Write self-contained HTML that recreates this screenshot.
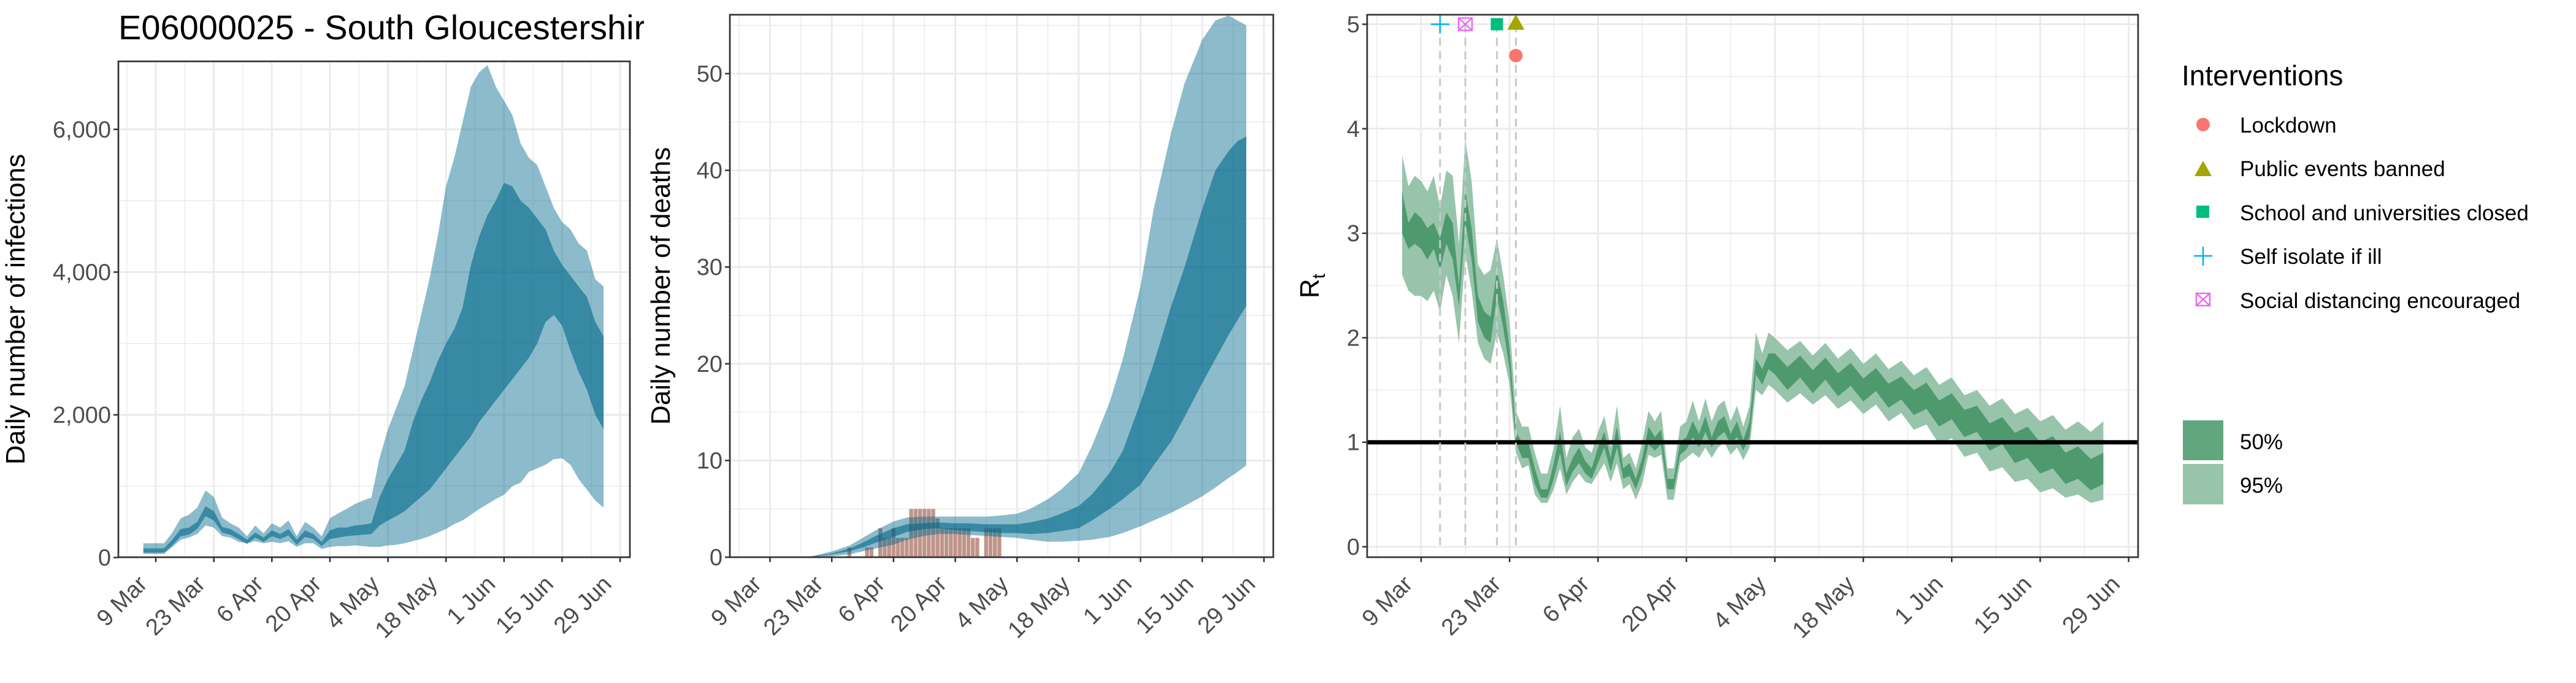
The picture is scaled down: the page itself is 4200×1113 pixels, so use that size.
<!DOCTYPE html>
<html><head><meta charset="utf-8">
<style>
html,body{margin:0;padding:0;background:#fff;}
svg{display:block;font-family:"Liberation Sans",Arial,sans-serif;}
</style></head>
<body>
<svg id="chart" width="4200" height="1113" viewBox="0 0 4200 1113" xmlns="http://www.w3.org/2000/svg">
<defs>
<clipPath id="titleClip"><rect x="0" y="0" width="1050" height="100"/></clipPath>
</defs>
<g clip-path="url(#titleClip)"><text x="193" y="64" font-size="56" fill="#000">E06000025 - South Gloucestershire</text></g>
<g id="p1"></g>
<g id="p2"></g>
<g id="p3"></g>
<g id="legend">
<text x="3557" y="139" font-size="46" fill="#000">Interventions</text>
<circle cx="3592" cy="203" r="11" fill="#F8766D"/>
<text x="3652" y="216" font-size="35">Lockdown</text>
<polygon points="3578,287 3606,287 3592,262" fill="#A3A500"/>
<text x="3652" y="287" font-size="35">Public events banned</text>
<rect x="3581" y="335" width="21" height="20" fill="#00BF7D"/>
<text x="3652" y="359" font-size="35">School and universities closed</text>
<g stroke="#00B0F6" stroke-width="2.5"><line x1="3577" y1="417" x2="3607" y2="417"/><line x1="3592" y1="402" x2="3592" y2="433"/></g>
<text x="3652" y="430" font-size="35">Self isolate if ill</text>
<g stroke="#E76BF3" stroke-width="2.5" fill="none"><rect x="3581" y="478" width="22" height="20"/><line x1="3581" y1="478" x2="3603" y2="498"/><line x1="3603" y1="478" x2="3581" y2="498"/></g>
<text x="3652" y="502" font-size="35">Social distancing encouraged</text>
<rect x="3559" y="685" width="66" height="65" fill="#62A67F"/>
<text x="3652" y="732" font-size="35">50%</text>
<rect x="3559" y="756" width="66" height="66" fill="#98C4AB"/>
<text x="3652" y="803" font-size="35">95%</text>
</g>
</svg>
<script>
// ---------- data (days since 9 Mar) ----------
const tickLabels = ["9 Mar","23 Mar","6 Apr","20 Apr","4 May","18 May","1 Jun","15 Jun","29 Jun"];
const tickDays = [0,14,28,42,56,70,84,98,112];

const infDays = [-3,0,2,4,6,8,10,12,14,16,18,20,22,24,26,28,30,32,34,36,38,40,42,44,46,48,50,52,54,56,58,60,62,64,66,68,70,72,74,76,78,80,82,84,86,88,90,92,94,96,98,100,102,104,106,108];
const infU95 = [200,200,200,350,550,600,700,940,850,560,480,420,300,450,340,480,420,520,300,500,420,300,550,620,680,750,800,840,1400,1800,2100,2400,2900,3400,3900,4500,5200,5600,6100,6600,6800,6900,6600,6400,6200,5800,5600,5500,5200,4900,4700,4600,4400,4300,3900,3800];
const infU50 = [130,130,130,250,400,420,500,720,650,430,400,330,250,350,280,380,330,400,250,380,330,220,380,420,420,450,460,480,850,1100,1300,1500,1900,2200,2450,2750,3000,3200,3500,4100,4500,4800,5000,5250,5200,5000,4900,4750,4600,4300,4100,3950,3800,3650,3300,3100];
const infL50 = [70,70,70,170,300,320,400,580,520,350,320,260,190,280,220,300,260,310,180,290,260,160,260,280,300,310,320,330,450,520,580,650,750,850,950,1100,1250,1400,1550,1700,1900,2050,2200,2350,2500,2650,2800,3000,3300,3400,3250,2900,2600,2350,2000,1800];
const infL95 = [50,50,50,150,250,280,330,450,420,300,280,220,200,230,200,220,200,230,150,200,200,120,150,160,160,170,160,150,150,170,180,200,230,260,300,350,400,470,520,600,680,750,820,880,1000,1050,1200,1250,1300,1380,1390,1300,1100,950,800,700];

const dDays = [-3,0,4,7,10,14,18,21,24,28,31,35,38,42,45,49,52,56,59,63,66,70,73,77,80,84,87,91,94,98,101,104,106,108];
const dU95 = [0,0,0,0.02,0.15,0.6,1.2,2,2.8,3.7,4.1,4.2,4.2,4.2,4.2,4.2,4.3,4.5,5,6,7,8.7,11.5,16,20.5,28,36,44,49,53.5,55.5,56,55.5,55];
const dU50 = [0,0,0,0,0.1,0.4,0.9,1.5,2.2,3.0,3.4,3.5,3.6,3.5,3.5,3.4,3.4,3.4,3.6,4,4.5,5.3,6.5,8.7,11,16,20,26,30,36,40,42,43,43.5];
const dL50 = [0,0,0,0,0.05,0.3,0.6,1.0,1.5,2.1,2.6,2.9,3,2.8,2.7,2.6,2.5,2.5,2.4,2.5,2.7,3,3.8,5,6,7.5,9.5,12,14.5,18,20.5,23,24.5,26];
const dL95 = [0,0,0,0,0.02,0.1,0.3,0.6,0.9,1.3,1.8,2.2,2.4,2.4,2.3,2.2,2.1,2.0,1.8,1.6,1.6,1.7,1.8,2.1,2.5,3.2,3.8,4.6,5.3,6.3,7.2,8.2,8.8,9.5];
const obsDays = [18,22,23,25,26,27,28,29,30,31,32,33,34,35,36,37,38,39,40,41,42,43,44,45,46,47,49,50,51,52];
const obsDeaths = [1,1,1,3,2,2,3,2,2,2,5,5,5,5,5,5,4,3,3,3,3,3,3,3,2,2,3,3,3,3];

const rDays = [-3,-2,-1,0,1,2,3,4,5,6,7,8,9,10,11,12,13,14,15,16,17,18,19,20,21,22,23,24,25,26,27,28,29,30,31,32,33,34,35,36,37,38,39,40,41,42,43,44,45,46,47,48,49,50,51,52,53,54,55,56,58,60,62,64,66,68,70,72,74,76,78,80,82,84,86,88,90,92,94,96,98,100,102,104,106,108];
const rU95 = [3.75,3.45,3.55,3.5,3.4,3.55,3.25,3.6,3.55,2.9,3.9,3.5,2.7,2.6,2.65,2.95,2.6,2.15,1.3,1.15,1.15,0.9,0.7,0.7,0.95,1.35,0.85,1.05,1.13,0.95,0.9,1.1,1.25,0.95,1.35,0.85,0.9,0.75,1.0,1.3,1.2,1.3,0.75,0.75,1.15,1.2,1.4,1.2,1.42,1.2,1.35,1.4,1.2,1.35,1.15,1.35,2.05,1.85,2.05,2.0,1.88,1.97,1.83,1.95,1.8,1.9,1.75,1.85,1.7,1.78,1.64,1.72,1.55,1.62,1.45,1.5,1.35,1.42,1.27,1.33,1.2,1.26,1.12,1.2,1.1,1.2];
const rU50 = [3.4,3.1,3.2,3.15,3.05,3.1,2.95,3.2,3.1,2.5,3.4,3.05,2.4,2.25,2.2,2.65,2.35,1.9,1.1,1.0,1.0,0.75,0.55,0.55,0.8,1.1,0.7,0.85,0.95,0.82,0.75,0.95,1.1,0.85,1.15,0.75,0.8,0.65,0.85,1.15,1.05,1.12,0.65,0.65,1.0,1.05,1.2,1.08,1.25,1.05,1.2,1.25,1.08,1.2,1.02,1.2,1.8,1.7,1.85,1.85,1.72,1.83,1.69,1.81,1.66,1.76,1.61,1.71,1.56,1.63,1.5,1.57,1.4,1.47,1.31,1.35,1.18,1.24,1.09,1.15,1.0,1.06,0.9,0.96,0.84,0.9];
const rL50 = [3.0,2.85,2.9,2.85,2.75,2.85,2.65,2.9,2.75,2.3,3.1,2.75,2.15,2.0,1.95,2.4,2.1,1.7,1.0,0.85,0.85,0.6,0.47,0.47,0.65,0.9,0.58,0.72,0.8,0.7,0.65,0.8,0.95,0.72,0.95,0.65,0.68,0.55,0.72,0.98,0.92,0.98,0.55,0.55,0.88,0.93,1.05,0.95,1.1,0.95,1.05,1.1,0.98,1.05,0.92,1.05,1.65,1.55,1.7,1.65,1.5,1.62,1.47,1.6,1.44,1.54,1.39,1.49,1.33,1.41,1.26,1.32,1.15,1.22,1.05,1.1,0.92,0.98,0.8,0.85,0.7,0.75,0.6,0.65,0.54,0.6];
const rL95 = [2.6,2.45,2.4,2.4,2.35,2.45,2.25,2.6,2.4,1.95,2.8,2.45,1.95,1.8,1.75,2.05,1.85,1.55,0.9,0.75,0.78,0.5,0.42,0.42,0.55,0.75,0.5,0.62,0.7,0.62,0.6,0.7,0.8,0.62,0.8,0.55,0.6,0.45,0.6,0.88,0.85,0.88,0.45,0.45,0.8,0.85,0.9,0.85,0.95,0.85,0.95,1.0,0.88,0.95,0.83,0.95,1.5,1.45,1.55,1.5,1.38,1.47,1.36,1.45,1.32,1.4,1.27,1.36,1.2,1.28,1.12,1.17,0.98,1.04,0.86,0.9,0.72,0.76,0.62,0.65,0.52,0.56,0.47,0.5,0.42,0.45];

const intDays = [15,15,12,3,7];
const intR = [4.7,5,5,5,5];
const intNames = ["lockdown","public-events-banned","school-closed","self-isolate","social-distancing"];

// ---------- helpers ----------
const NS = "http://www.w3.org/2000/svg";
function mk(parent, tag, attrs) {
  const el = document.createElementNS(NS, tag);
  for (const k in attrs) el.setAttribute(k, attrs[k]);
  parent.appendChild(el);
  return el;
}
function bandPath(days, lo, hi, xf, yf) {
  let d = "";
  for (let i = 0; i < days.length; i++) d += (i ? "L" : "M") + xf(days[i]).toFixed(1) + "," + yf(hi[i]).toFixed(1);
  for (let i = days.length - 1; i >= 0; i--) d += "L" + xf(days[i]).toFixed(1) + "," + yf(lo[i]).toFixed(1);
  return d + "Z";
}
function panel(g, cfg) {
  const {L, R, T, B, xf, yf, yMajor, yMinor, yFmt, title} = cfg;
  mk(g, "rect", {x: L, y: T, width: R - L, height: B - T, fill: "#fff"});
  yMinor.forEach(v => { const y = yf(v); if (y > T && y < B) mk(g, "line", {x1: L, x2: R, y1: y, y2: y, stroke: "#ebebeb", "stroke-width": 1.5}); });
  for (let d = -7; d <= 119; d += 14) { const x = xf(d); if (x > L && x < R) mk(g, "line", {x1: x, x2: x, y1: T, y2: B, stroke: "#ebebeb", "stroke-width": 1.5}); }
  yMajor.forEach(v => { const y = yf(v); mk(g, "line", {x1: L, x2: R, y1: y, y2: y, stroke: "#ebebeb", "stroke-width": 3}); });
  tickDays.forEach(d => { const x = xf(d); if (x > L && x < R) mk(g, "line", {x1: x, x2: x, y1: T, y2: B, stroke: "#ebebeb", "stroke-width": 3}); });
  const content = mk(g, "g", {});
  yMajor.forEach(v => {
    const y = yf(v);
    const tk = mk(g, "line", {x1: L - 8, x2: L, y1: y, y2: y, stroke: "#333", "stroke-width": 2.5});
    
    
    const t = mk(g, "text", {x: L - 12, y: y + 13, "text-anchor": "end", "font-size": 38, fill: "#4d4d4d"});
    t.textContent = yFmt(v);
    
    
  });
  tickDays.forEach((d, i) => {
    const x = xf(d);
    mk(g, "line", {x1: x, x2: x, y1: B, y2: B + 8, stroke: "#333", "stroke-width": 2.5});
    const ax = x - 12, ay = B + 46;
    const t = mk(g, "text", {x: ax, y: ay, "text-anchor": "end", "font-size": 38, fill: "#4d4d4d", transform: "rotate(-45 " + ax + " " + ay + ")"});
    t.textContent = tickLabels[i];
    
    
  });
  const yt = mk(g, "text", {x: title.x, y: title.y, "text-anchor": "middle", "font-size": 44, fill: "#000", transform: "rotate(-90 " + title.x + " " + title.y + ")"});
  
  
  if (title.sub) {
    yt.textContent = title.text;
    const s = mk(yt, "tspan", {"font-size": 30, dy: 10});
    s.textContent = title.sub;
  } else yt.textContent = title.text;
  return content;
}
function border(g, L, R, T, B) {
  const b = mk(g, "rect", {x: L, y: T, width: R - L, height: B - T, fill: "none", stroke: "#333", "stroke-width": 2.7});
  
  
}

// ---------- panel 1: infections ----------
(function () {
  const g = document.getElementById("p1");
  const L = 193, R = 1027, T = 100, B = 908;
  const xf = d => 254 + d * 6.76;
  const yf = v => 908.6 - v * 232.6 / 2000;
  const c = panel(g, {L, R, T, B, xf, yf, yMajor: [0, 2000, 4000, 6000], yMinor: [1000, 3000, 5000],
    yFmt: v => v.toLocaleString("en-US"), title: {x: 40, y: 504, text: "Daily number of infections"}});
  const b95 = mk(c, "path", {d: bandPath(infDays, infL95, infU95, xf, yf), fill: "rgba(0,104,139,0.45)"});
  
  
  const b50 = mk(c, "path", {d: bandPath(infDays, infL50, infU50, xf, yf), fill: "rgba(0,104,139,0.6)"});
  
  
  border(g, L, R, T, B);
})();

// ---------- panel 2: deaths ----------
(function () {
  const g = document.getElementById("p2");
  const L = 1190, R = 2076, T = 24, B = 908;
  const xf = d => 1255.5 + d * 7.19;
  const yf = v => 908 - v * 15.76;
  const c = panel(g, {L, R, T, B, xf, yf, yMajor: [0, 10, 20, 30, 40, 50], yMinor: [5, 15, 25, 35, 45, 55],
    yFmt: v => String(v), title: {x: 1092, y: 466, text: "Daily number of deaths"}});
  obsDays.forEach((d, i) => {
    const x = xf(d) - 3.2, y = yf(obsDeaths[i]);
    const r = mk(c, "rect", {x: x, y: y, width: 6.4, height: yf(0) - y, fill: "#C0958C"});
    
    
  });
  const b95 = mk(c, "path", {d: bandPath(dDays, dL95, dU95, xf, yf), fill: "rgba(0,104,139,0.45)"});
  
  
  const b50 = mk(c, "path", {d: bandPath(dDays, dL50, dU50, xf, yf), fill: "rgba(0,104,139,0.6)"});
  
  
  border(g, L, R, T, B);
})();

// ---------- panel 3: Rt ----------
(function () {
  const g = document.getElementById("p3");
  const L = 2229, R = 3486, T = 24, B = 908;
  const xf = d => 2317 + d * 10.3;
  const yf = v => 891 - v * 170.3;
  const c = panel(g, {L, R, T, B, xf, yf, yMajor: [0, 1, 2, 3, 4, 5], yMinor: [0.5, 1.5, 2.5, 3.5, 4.5],
    yFmt: v => String(v), title: {x: 2150, y: 466, text: "R", sub: "t"}});
  const b95 = mk(c, "path", {d: bandPath(rDays, rL95, rU95, xf, yf), fill: "#98C4AB"});
  
  
  const b50 = mk(c, "path", {d: bandPath(rDays, rL50, rU50, xf, yf), fill: "#4E9A6E"});
  
  
  const h = mk(c, "line", {x1: L, x2: R, y1: yf(1), y2: yf(1), stroke: "#000", "stroke-width": 7});
  
  
  intDays.forEach((d, i) => {
    const x = xf(d);
    const ln = mk(c, "line", {x1: x, x2: x, y1: yf(5), y2: yf(0), stroke: "#c8c8c8", "stroke-width": 3, "stroke-dasharray": "13,9"});
    
    
  });
  intDays.forEach((d, i) => {
    const x = xf(d), y = yf(intR[i]);
    let m;
    if (i === 0) m = mk(c, "circle", {cx: x, cy: y, r: 11, fill: "#F8766D"});
    else if (i === 1) m = mk(c, "polygon", {points: (x - 14) + "," + (y + 9) + " " + (x + 14) + "," + (y + 9) + " " + x + "," + (y - 16), fill: "#A3A500"});
    else if (i === 2) m = mk(c, "rect", {x: x - 10, y: y - 10, width: 20, height: 20, fill: "#00BF7D"});
    else if (i === 3) { m = mk(c, "g", {stroke: "#00B0F6", "stroke-width": 2.5}); mk(m, "line", {x1: x - 15, x2: x + 15, y1: y, y2: y}); mk(m, "line", {x1: x, x2: x, y1: y - 15, y2: y + 15}); }
    else { m = mk(c, "g", {stroke: "#E76BF3", "stroke-width": 2.5, fill: "none"}); mk(m, "rect", {x: x - 11, y: y - 10, width: 22, height: 20}); mk(m, "line", {x1: x - 11, y1: y - 10, x2: x + 11, y2: y + 10}); mk(m, "line", {x1: x + 11, y1: y - 10, x2: x - 11, y2: y + 10}); }
    
    
  });
  border(g, L, R, T, B);
})();
</script>
</body></html>
